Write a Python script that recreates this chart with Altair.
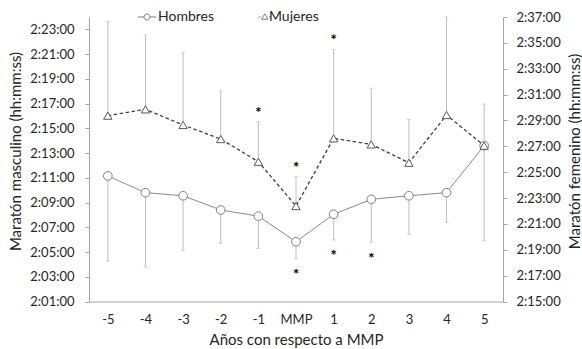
import altair as alt
import pandas as pd

# ---- data (minutes after 2:00:00) ----
years = ['-5', '-4', '-3', '-2', '-1', 'MMP', '1', '2', '3', '4', '5']
men = [11.15, 9.8, 9.55, 8.4, 7.9, 5.83, 8.05, 9.26, 9.55, 9.8, 13.6]
men_low = [4.27, 3.8, 5.14, 5.7, 5.3, 4.46, 5.97, 5.79, 6.43, 7.4, 5.9]
women = [29.37, 29.86, 28.65, 27.56, 25.81, 22.38, 27.62, 27.15, 25.73, 29.42, 27.05]
women_high = [36.64, 35.6, 34.24, 31.28, 28.9, 24.65, 34.5, 31.49, 29.09, 37.0, 30.27]
men_star_x = ['MMP', '1', '2']
men_star_y = [3.47, 5.0, 4.76]
women_star_x = ['-1', 'MMP', '1']
women_star_y = [29.86, 25.63, 35.48]
series = ['Hombres', 'Mujeres']

FONT = 'Lato'
TXT = '#262626'
men_df = pd.DataFrame({'year': years, 't': men, 'lo': men_low})
women_df = pd.DataFrame({'year': years, 't': women, 'hi': women_high})
men_star = pd.DataFrame({'year': men_star_x, 't': men_star_y})
women_star = pd.DataFrame({'year': women_star_x, 't': women_star_y})
leg_df = pd.DataFrame({'serie': series})

label_expr = "'2:' + (datum.value < 10 ? '0' : '') + datum.value + ':00'"

xenc = alt.X('year:N', sort=years, scale=alt.Scale(type='point', padding=0.5),
             axis=alt.Axis(title='Años con respecto a MMP', ticks=False, labelAngle=0,
                           labelPadding=12, titlePadding=6, labelFontSize=13))

axL = alt.Axis(orient='left', values=list(range(1, 24, 2)), labelExpr=label_expr,
               title='Maratón masculino (hh:mm:ss)', grid=False, tickSize=4,
               labelPadding=11, labelOverlap=False, titleX=-74, titleY=134,
               titleAngle=270, titleBaseline='middle', titleAlign='center')
axR = alt.Axis(orient='right', values=list(range(15, 38, 2)), labelExpr=label_expr,
               title='Maratón femenino (hh:mm:ss)', grid=False, tickSize=4,
               labelPadding=9, labelOverlap=False, titleX=71, titleY=134,
               titleAngle=270, titleBaseline='middle', titleAlign='center')
scL = alt.Scale(domain=[1, 24], nice=False, zero=False)
scR = alt.Scale(domain=[15, 37], nice=False, zero=False)
yL = alt.Y('t:Q', scale=scL, axis=axL)
yR = alt.Y('t:Q', scale=scR, axis=axR)

ERR = '#bfbfbf'

men_base = alt.Chart(men_df)
men_err = men_base.mark_rule(color=ERR, strokeWidth=1).encode(x=xenc, y=yL, y2='lo:Q')
men_cap = men_base.mark_tick(color=ERR, size=4, thickness=1, orient='horizontal').encode(
    x=xenc, y=alt.Y('lo:Q', scale=scL, axis=axL))
men_line = men_base.mark_line(color='#8a8a8a', strokeWidth=1).encode(x=xenc, y=yL)
men_pts = men_base.mark_point(shape='circle', size=75, filled=False, fill='white', fillOpacity=1,
                              color='#808080', strokeWidth=1, opacity=1).encode(x=xenc, y=yL)
men_ast = alt.Chart(men_star).mark_text(text='*', font=FONT, fontSize=15, fontWeight='bold',
                                        color='#000000', angle=1, dy=4).encode(x=xenc, y=yL)

hom_path = ("M-1.2,0H-0.4 M0.4,0H1.2 M-0.4,0A0.4,0.4,0,1,0,0.4,0A0.4,0.4,0,1,0,-0.4,0Z")
muj_path = ("M0.1,0H0.35 M1.45,0H1.7 M0.9,-0.42L1.32,0.3L0.48,0.3Z")
legend_layer = alt.Chart(leg_df).mark_point(opacity=0).encode(
    x=alt.value(0), y=alt.value(0),
    shape=alt.Shape('serie:N', scale=alt.Scale(domain=series, range=[hom_path, muj_path]),
                    legend=alt.Legend(title=None, orient='none', direction='horizontal',
                                      legendX=50, legendY=-8, symbolSize=225,
                                      symbolStrokeColor='#7f7f7f', symbolFillColor='white',
                                      symbolStrokeWidth=1, symbolOpacity=1,
                                      labelFont=FONT, labelFontSize=14, labelColor=TXT,
                                      labelOffset=3, columnPadding=35, padding=0)))

left = alt.layer(men_err, men_cap, men_line, men_pts, men_ast, legend_layer)

women_base = alt.Chart(women_df)
w_err = women_base.mark_rule(color=ERR, strokeWidth=1).encode(x=xenc, y=yR, y2='hi:Q')
w_cap = women_base.mark_tick(color=ERR, size=4, thickness=1, orient='horizontal').encode(
    x=xenc, y=alt.Y('hi:Q', scale=scR, axis=axR))
w_line = women_base.mark_line(color='#404040', strokeWidth=1.3, strokeDash=[3.5, 2.5]).encode(x=xenc, y=yR)
w_pts = women_base.mark_point(shape='triangle-up', size=70, filled=False, fill='white', fillOpacity=1,
                              color='#595959', strokeWidth=1, opacity=1).encode(x=xenc, y=yR)
w_ast = alt.Chart(women_star).mark_text(text='*', font=FONT, fontSize=15, fontWeight='bold',
                                        color='#000000', angle=1, dy=4).encode(x=xenc, y=yR)
right = alt.layer(w_err, w_cap, w_line, w_pts, w_ast)

chart = alt.layer(left, right).resolve_scale(y='independent').properties(
    width=414, height=284.5,
    background='white',
    autosize=alt.AutoSizeParams(type='none'),
    padding={'left': 89, 'top': 17, 'right': 79, 'bottom': 47},
).configure_view(stroke=None).configure_axis(
    labelFont=FONT, labelFontSize=13, labelColor=TXT,
    titleFont=FONT, titleFontSize=15, titleFontWeight='normal', titleColor=TXT,
    domainColor='#a6a6a6', tickColor='#a6a6a6', domainWidth=1,
)

chart.save('out.html', embed_options={'renderer': 'svg', 'actions': False})
